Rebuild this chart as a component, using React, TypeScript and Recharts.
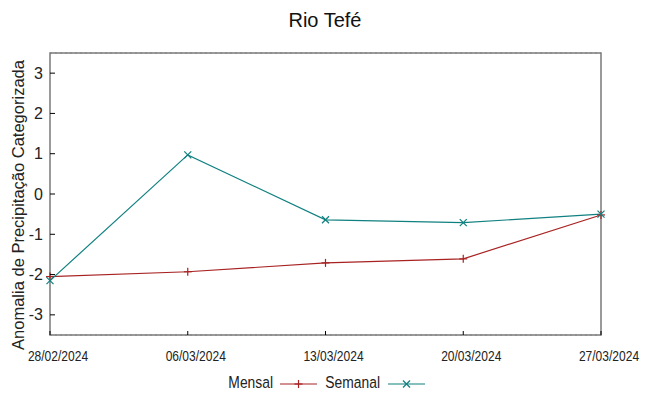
import React from 'react';
import { LineChart, Line, XAxis, YAxis, CartesianGrid, ReferenceArea } from 'recharts';

const categories = ['28/02/2024', '06/03/2024', '13/03/2024', '20/03/2024', '27/03/2024'];
const mensal = [-2.05, -1.93, -1.71, -1.61, -0.52];
const semanal = [-2.15, 0.97, -0.64, -0.71, -0.5];
const yTicks = [-3, -2, -1, 0, 1, 2, 3];

const data = categories.map((d, i) => ({ date: d, mensal: mensal[i], semanal: semanal[i] }));

const RED = '#a82222';
const TEAL = '#118080';
const SANS = '"Liberation Sans", Arial, sans-serif';

const PlusDot = (props: any) => {
  const { cx, cy } = props;
  if (cx == null || cy == null) return null;
  return (
    <g>
      <line x1={cx - 4} y1={cy} x2={cx + 4} y2={cy} stroke={RED} strokeWidth={1.2} />
      <line x1={cx} y1={cy - 4} x2={cx} y2={cy + 4} stroke={RED} strokeWidth={1.2} />
    </g>
  );
};

const CrossDot = (props: any) => {
  const { cx, cy } = props;
  if (cx == null || cy == null) return null;
  return (
    <g>
      <line x1={cx - 3.5} y1={cy - 3.5} x2={cx + 3.5} y2={cy + 3.5} stroke={TEAL} strokeWidth={1.2} />
      <line x1={cx - 3.5} y1={cy + 3.5} x2={cx + 3.5} y2={cy - 3.5} stroke={TEAL} strokeWidth={1.2} />
    </g>
  );
};

const BottomTick = (props: any) => {
  const { x, y, payload } = props;
  return (
    <g>
      <line x1={x} y1={y} x2={x} y2={y - 4} stroke="#000" strokeWidth={1} />
      <text
        x={0}
        y={0}
        transform={`translate(${x + 8},${y + 26}) scale(0.86,1)`}
        textAnchor="middle"
        fontFamily={SANS}
        fontSize={14}
        fill="#222"
      >
        {payload.value}
      </text>
    </g>
  );
};

const TopTick = (props: any) => {
  const { x, y } = props;
  return <line x1={x} y1={y} x2={x} y2={y + 4} stroke="#000" strokeWidth={1} />;
};

const LeftTick = (props: any) => {
  const { x, y, payload } = props;
  return (
    <g>
      <line x1={x} y1={y} x2={x + 5} y2={y} stroke="#000" strokeWidth={1} />
      <text x={x - 7} y={y + 5.5} textAnchor="end" fontFamily={SANS} fontSize={16} fill="#222">
        {payload.value}
      </text>
    </g>
  );
};

const RightTick = (props: any) => {
  const { x, y } = props;
  return <line x1={x} y1={y} x2={x - 5} y2={y} stroke="#000" strokeWidth={1} />;
};

export default function App() {
  return (
    <div style={{ position: 'absolute', left: 0, top: 0, width: 649, height: 396, background: '#fff' }}>
      <LineChart width={649} height={396} data={data} margin={{ top: 53, right: 48, bottom: 31, left: 0 }}>
        <CartesianGrid vertical={false} stroke="#a0a0a0" strokeDasharray="2 3" />
        <XAxis
          dataKey="date"
          xAxisId="bottom"
          interval={0}
          axisLine={false}
          tickLine={false}
          tickSize={0}
          tickMargin={0}
          height={30}
          tick={<BottomTick />}
        />
        <XAxis
          dataKey="date"
          xAxisId="top"
          orientation="top"
          interval={0}
          axisLine={false}
          tickLine={false}
          tickSize={0}
          tickMargin={0}
          height={0}
          tick={<TopTick />}
        />
        <YAxis
          yAxisId="left"
          domain={[-3.5, 3.5]}
          ticks={yTicks}
          type="number"
          width={50}
          axisLine={false}
          tickLine={false}
          tickSize={0}
          tickMargin={0}
          tick={<LeftTick />}
        />
        <YAxis
          yAxisId="right"
          orientation="right"
          domain={[-3.5, 3.5]}
          ticks={yTicks}
          type="number"
          width={0}
          axisLine={false}
          tickLine={false}
          tickSize={0}
          tickMargin={0}
          tick={<RightTick />}
        />
        <ReferenceArea
          xAxisId="bottom"
          yAxisId="left"
          x1={categories[0]}
          x2={categories[categories.length - 1]}
          y1={-3.5}
          y2={3.5}
          fill="none"
          stroke="#7a7a7a"
          strokeWidth={1.5}
        />
        <Line
          xAxisId="bottom"
          yAxisId="left"
          dataKey="mensal"
          stroke={RED}
          strokeWidth={1.2}
          dot={<PlusDot />}
          activeDot={false}
          isAnimationActive={false}
        />
        <Line
          xAxisId="bottom"
          yAxisId="left"
          dataKey="semanal"
          stroke={TEAL}
          strokeWidth={1.2}
          dot={<CrossDot />}
          activeDot={false}
          isAnimationActive={false}
        />
        <Line
          xAxisId="top"
          yAxisId="right"
          dataKey="semanal"
          stroke="none"
          dot={false}
          activeDot={false}
          isAnimationActive={false}
          legendType="none"
        />
      </LineChart>
      <svg width={649} height={396} style={{ position: 'absolute', left: 0, top: 0, pointerEvents: 'none' }}>
        <text x={325} y={27} textAnchor="middle" fontFamily={SANS} fontSize={20} fill="#111">
          Rio Tefé
        </text>
        <text
          x={0}
          y={0}
          transform="translate(24,205) rotate(-90)"
          textAnchor="middle"
          fontFamily={SANS}
          fontSize={16.5}
          fill="#222"
        >
          Anomalia de Precipitação Categorizada
        </text>
        <text x={0} y={0} transform="translate(273,388) scale(0.84,1)" textAnchor="end" fontFamily={SANS} fontSize={16.5} fill="#222">
          Mensal
        </text>
        <line x1={280} y1={384} x2={317} y2={384} stroke={RED} strokeWidth={1.2} />
        <PlusDot cx={298.5} cy={384} />
        <text x={0} y={0} transform="translate(380,388) scale(0.84,1)" textAnchor="end" fontFamily={SANS} fontSize={16.5} fill="#222">
          Semanal
        </text>
        <line x1={388} y1={384} x2={425} y2={384} stroke={TEAL} strokeWidth={1.2} />
        <CrossDot cx={406.5} cy={384} />
      </svg>
    </div>
  );
}
